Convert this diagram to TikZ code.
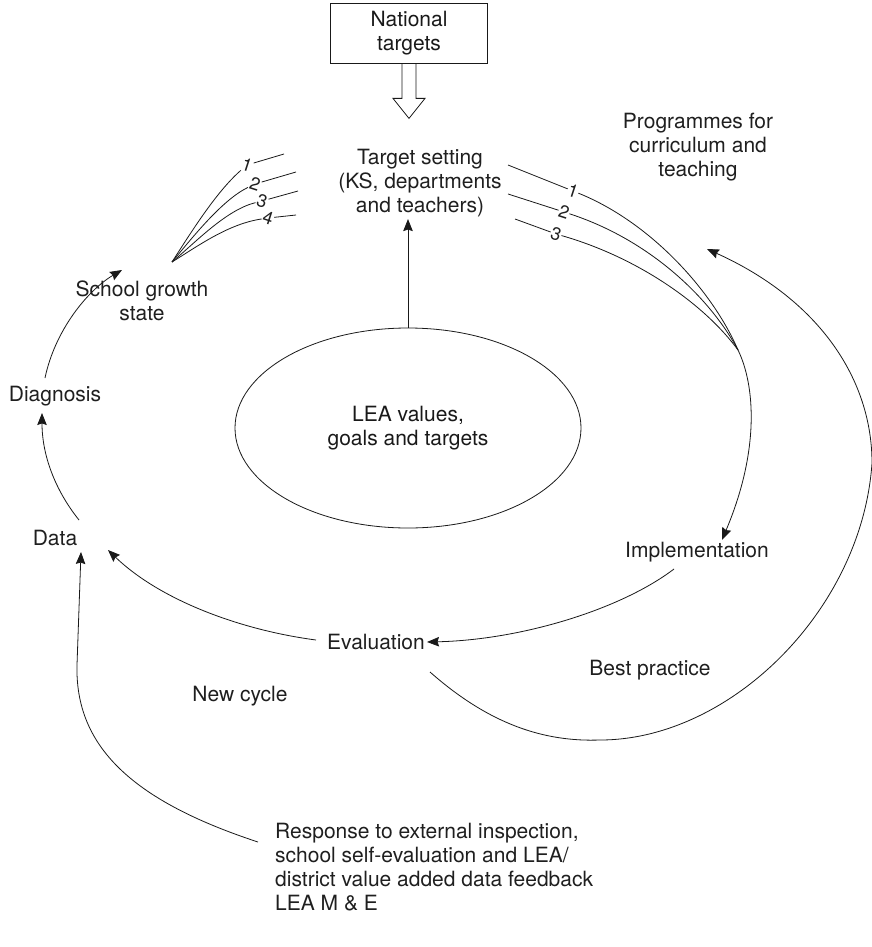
\documentclass[tikz,border=0pt]{standalone}
\usepackage{fontspec}
\setmainfont{TeX Gyre Heros}
\usetikzlibrary{arrows.meta,shapes.geometric}
\begin{document}
\begin{tikzpicture}[x=1pt,y=-1pt,
  every node/.style={font=\fontsize{21}{24}\selectfont, text=black!88},
  lbl/.style={align=center, inner sep=2pt},
  numlbl/.style={inner sep=0.5pt, rotate=-18, font=\fontsize{18}{20}\selectfont},
  conn/.style={line width=0.8pt, black!90},
  arr/.style={conn, -{Stealth[length=12pt,width=9.5pt,inset=1.5pt]}},
]
\useasboundingbox (0,0) rectangle (872,947);

% --- nodes ---
\node[draw, conn, lbl, minimum width=157pt, minimum height=60pt] (nat) at (409,33) {National\\targets};
\node[lbl] (tgt) at (420,183) {Target setting\\(KS, departments\\and teachers)};
\node[lbl] (prog) at (698,147) {Programmes for\\curriculum and\\teaching};
\node[draw, conn, ellipse, minimum width=346pt, minimum height=200pt, align=center] (lea) at (408,428) {LEA values,\\goals and targets};
\node[lbl] (sgs) at (142,301) {School growth\\state};
\node[lbl] (diag) at (55,396) {Diagnosis};
\node[lbl] (data) at (55,538) {Data};
\node[lbl] (impl) at (697,552) {Implementation};
\node[lbl] (eval) at (376,642) {Evaluation};
\node[lbl] (best) at (650,670) {Best practice};
\node[lbl] (newc) at (240,696) {New cycle};
\node[align=left, anchor=north west, inner sep=2pt] (resp) at (273,821)
  {Response to external inspection,\\school self-evaluation and LEA/\\district value added data feedback\\LEA M \& E};

% --- hollow arrow from national targets ---
\draw[conn, line join=miter] (nat.south) ++(-7,0) -- ++(0,35) -- ++(-9,0) -- ++(16,20)
  -- ++(16,-20) -- ++(-9,0) -- ++(0,-35);

% --- LEA values feed target setting ---
\draw[arr] (lea.north) -- (lea.north |- tgt.south);

% --- growth state numbered strands to target setting ---
\coordinate (L0) at (172,262);
\node[numlbl] (l1) at (247,165) {1};
\node[numlbl] (l2) at (255,184) {2};
\node[numlbl] (l3) at (262,201) {3};
\node[numlbl] (l4) at (268,218) {4};
\coordinate (l1e) at (284,154);
\coordinate (l2e) at (296,172);
\coordinate (l3e) at (298,191);
\coordinate (l4e) at (296,215);
\draw[conn] (L0) .. controls (190,234) and (216,192) .. (l1);
\draw[conn] (L0) .. controls (192,238) and (222,200) .. (l2);
\draw[conn] (L0) .. controls (196,242) and (226,210) .. (l3);
\draw[conn] (L0) .. controls (198,246) and (228,224) .. (l4);
\draw[conn] (l1) -- (l1e);
\draw[conn] (l2) -- (l2e);
\draw[conn] (l3) -- (l3e);
\draw[conn] (l4) -- (l4e);

% --- target setting numbered strands to implementation ---
\coordinate (r1s) at (508,165);
\coordinate (r2s) at (508,194);
\coordinate (r3s) at (515,219);
\node[numlbl] (r1) at (573,191) {1};
\node[numlbl] (r2) at (564,212) {2};
\node[numlbl] (r3) at (556,234) {3};
\coordinate (R0) at (738,350);
\draw[conn] (r1s) -- (r1);
\draw[conn] (r2s) -- (r2);
\draw[conn] (r3s) -- (r3);
\draw[conn] (r1) .. controls (650,222) and (712,290) .. (R0);
\draw[conn] (r2) .. controls (650,240) and (710,298) .. (R0);
\draw[conn] (r3) .. controls (640,258) and (706,306) .. (R0);
\draw[arr] (R0) .. controls (755,385) and (760,450) .. (impl.north west -| 722,0);

% --- the cycle ---
\coordinate (i0) at (674,569);
\draw[arr] (i0) .. controls (620,610) and (520,640) .. (eval.east);
\coordinate (e0) at (316,640);
\draw[arr] (e0) .. controls (240,630) and (160,600) .. (108,550);
\coordinate (d0) at (79,520);
\draw[arr] (d0) .. controls (55,490) and (42,455) .. (42,413);
\coordinate (g0) at (45,378);
\draw[arr] (g0) .. controls (55,330) and (88,290) .. (122,270);

% --- best practice loop back to programmes ---
\coordinate (b0) at (430,672);
\coordinate (b1) at (600,740);
\coordinate (b2) at (872,463);
\coordinate (b3) at (707,249);
\draw[arr] (b0) .. controls (490,725) and (545,742) .. (b1)
  .. controls (730,740) and (862,610) .. (b2)
  .. controls (872,380) and (820,300) .. (b3);

% --- external feedback into data ---
\coordinate (f0) at (258,842);
\coordinate (f1) at (77,665);
\coordinate (f2) at (81,552);
\draw[arr] (f0) .. controls (130,800) and (75,745) .. (f1) -- (f2);
\end{tikzpicture}
\end{document}
